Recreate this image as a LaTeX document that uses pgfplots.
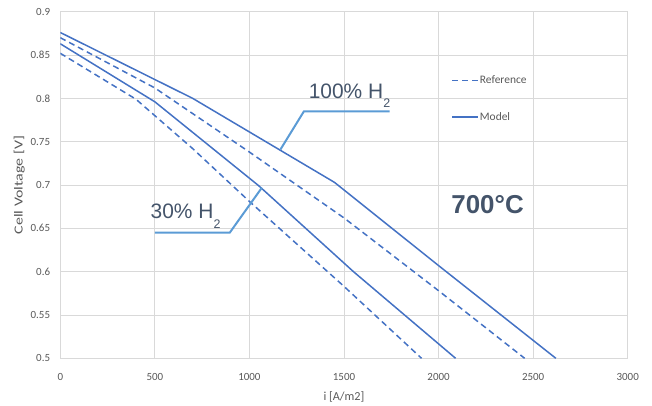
\documentclass[border=0pt]{standalone}
\usepackage{graphicx}
\usepackage{pgfplots}
\pgfplotsset{compat=1.18}
\usepackage{fontspec}
\setmainfont{Carlito}
\newfontfamily\arial{Liberation Sans}
\definecolor{lineblue}{HTML}{4472C4}
\definecolor{leader}{HTML}{5B9BD5}
\definecolor{annot}{HTML}{44546A}
\definecolor{gridc}{HTML}{D9D9D9}
\definecolor{txt}{HTML}{595959}
\begin{document}
\begin{tikzpicture}
\useasboundingbox (-60.3bp,-47.7bp) rectangle (591.7bp,358.3bp);
\begin{axis}[
  scale only axis, width=567.4bp, height=346.6bp,
  xmin=0, xmax=3000, ymin=0.5, ymax=0.9,
  xtick={0,500,1000,1500,2000,2500,3000},
  ytick={0.5,0.55,0.6,0.65,0.7,0.75,0.8,0.85,0.9},
  /pgf/number format/assume math mode=true,
  yticklabel style={/pgf/number format/fixed, /pgf/number format/precision=2, anchor=east, inner sep=0pt, xshift=-10bp},
  xticklabel style={/pgf/number format/1000 sep={}, anchor=center, inner sep=0pt, yshift=-18.4bp},
  tick label style={font=\fontsize{11}{13}\selectfont, text=txt},
  major tick length=0pt,
  grid=major, major grid style={draw=gridc, line width=0.8bp},
  axis line style={draw=gridc, line width=0.8bp},
  xlabel={i [A/m2]}, ylabel={\scalebox{1.3}[1]{Cell Voltage [V]}},
  label style={font=\fontsize{12.3}{14}\selectfont, text=txt},
  xlabel style={at={(axis description cs:0.5,-0.1108)}, anchor=center},
  ylabel style={at={(axis description cs:-0.0723,0.5)}, anchor=center},
  legend style={at={(axis cs:2067,0.7993)}, anchor=west, draw=none, fill=none, inner sep=0pt,
    font=\fontsize{11.5}{13}\selectfont, text=txt, row sep=25bp,
    nodes={inner sep=1bp}},
  legend cell align=left,
  legend image code/.code={\draw[#1] (0bp,0bp) -- (26bp,0bp);},
]
\addplot[lineblue, line width=1.5bp, dash pattern=on 6bp off 4bp] coordinates {(0,0.870)(500,0.812)(1000,0.738)(1500,0.662)(2000,0.578)(2455,0.5)};
\addlegendentry{Reference}
\addplot[lineblue, line width=1.5bp] coordinates {(0,0.876)(700,0.800)(1450,0.703)(2000,0.607)(2620,0.5)};
\addlegendentry{Model}
\addplot[lineblue, line width=1.5bp, dash pattern=on 6bp off 4bp, forget plot] coordinates {(0,0.852)(400,0.799)(700,0.742)(1000,0.681)(1500,0.583)(1910,0.5)};
\addplot[lineblue, line width=1.5bp, forget plot] coordinates {(0,0.863)(500,0.796)(1050,0.699)(1550,0.600)(2090,0.5)};
\addplot[leader, line width=2bp, forget plot] coordinates {(1164,0.741)(1288,0.785)(1741,0.785)};
\addplot[leader, line width=2bp, forget plot] coordinates {(500,0.645)(896,0.645)(1066,0.697)};
\node[anchor=base west, inner sep=0pt, text=annot, font=\arial\fontsize{21}{21}\selectfont] at (axis cs:1313,0.800) {100\% H\raisebox{-9.5bp}{\fontsize{12.5}{12.5}\selectfont 2}};
\node[anchor=base west, inner sep=0pt, text=annot, font=\arial\fontsize{21}{21}\selectfont] at (axis cs:477,0.6616) {30\% H\raisebox{-10.5bp}{\fontsize{12.5}{12.5}\selectfont 2}};
\node[anchor=base west, inner sep=0pt, text=annot, font=\arial\bfseries\fontsize{26}{26}\selectfont] at (axis cs:2067,0.6673) {700°C};
\end{axis}
\end{tikzpicture}
\end{document}
